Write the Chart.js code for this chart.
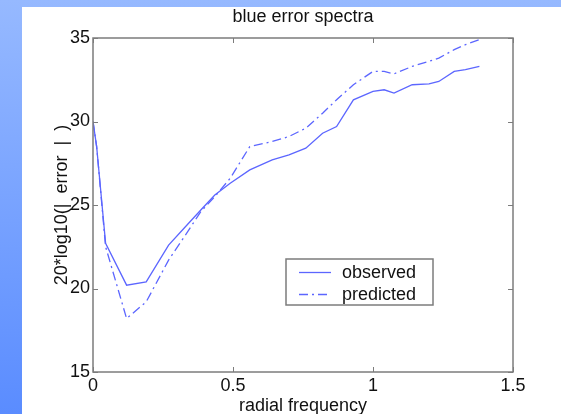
<!DOCTYPE html>
<html>
<head>
<meta charset="utf-8">
<script src="https://cdn.jsdelivr.net/npm/chart.js@4.4.1/dist/chart.umd.min.js"></script>
<style>
  html, body { margin: 0; padding: 0; }
  body { width: 561px; height: 414px; overflow: hidden; position: relative;
         background: linear-gradient(180deg, #96b9ff 0%, #5a8cff 100%); }
  #panel { position: absolute; left: 22px; top: 7px; width: 539px; height: 407px; background: #ffffff; }
  canvas { display: block; }
</style>
</head>
<body>
<div id="panel"><canvas id="c" width="539" height="407"></canvas></div>
<script>
// ---- data ----
const freq      = [0, 0.013, 0.045, 0.12, 0.19, 0.27, 0.33, 0.385, 0.435, 0.49, 0.56, 0.64, 0.70, 0.76, 0.82, 0.87, 0.93, 1.0, 1.04, 1.075, 1.14, 1.2, 1.235, 1.29, 1.33, 1.38];
const observed  = [30.0, 28.5, 22.7, 20.2, 20.4, 22.6, 23.7, 24.7, 25.6, 26.3, 27.1, 27.7, 28.0, 28.4, 29.3, 29.7, 31.3, 31.8, 31.9, 31.7, 32.2, 32.25, 32.4, 33.0, 33.1, 33.3];
const predicted = [30.0, 28.5, 22.5, 18.2, 19.2, 21.7, 23.2, 24.6, 25.5, 26.6, 28.5, 28.8, 29.1, 29.6, 30.5, 31.3, 32.2, 33.0, 33.0, 32.85, 33.3, 33.6, 33.8, 34.3, 34.6, 34.9];
const seriesNames = ['observed', 'predicted'];
const xTickValues = [0, 0.5, 1, 1.5];
const xTickLabels = ['0', '0.5', '1', '1.5'];
const yTickValues = [15, 20, 25, 30, 35];
const yTickLabels = ['15', '20', '25', '30', '35'];
const titleText = 'blue error spectra';
const xTitle = 'radial frequency';
const yTitle = '20*log10(|  error  |  )';

const FONT = '"Liberation Sans", Arial, Helvetica, sans-serif';
const LINE = 'rgb(92,102,255)';
const AXIS = '#7c7c7c';

function pts(ys) { return freq.map((f, i) => ({ x: f, y: ys[i] })); }

const decor = {
  id: 'decor',
  afterDraw(chart) {
    const ctx = chart.ctx, a = chart.chartArea;
    const xs = chart.scales.x, ys = chart.scales.y;
    ctx.save();
    // axes box
    ctx.strokeStyle = AXIS; ctx.lineWidth = 1.5;
    ctx.strokeRect(a.left, a.top, a.right - a.left, a.bottom - a.top);
    // inner ticks on all sides
    ctx.lineWidth = 1;
    const tl = 5;
    ctx.beginPath();
    xTickValues.forEach(v => {
      const px = Math.round(xs.getPixelForValue(v)) + 0.5;
      ctx.moveTo(px, a.bottom); ctx.lineTo(px, a.bottom - tl);
      ctx.moveTo(px, a.top); ctx.lineTo(px, a.top + tl);
    });
    yTickValues.forEach(v => {
      const py = Math.round(ys.getPixelForValue(v)) + 0.5;
      ctx.moveTo(a.left, py); ctx.lineTo(a.left + tl, py);
      ctx.moveTo(a.right, py); ctx.lineTo(a.right - tl, py);
    });
    ctx.stroke();
    // title
    ctx.fillStyle = '#111';
    ctx.font = '18px ' + FONT;
    ctx.textAlign = 'center'; ctx.textBaseline = 'alphabetic';
    ctx.fillText(titleText, (a.left + a.right) / 2, 15);
    // x title
    ctx.fillText(xTitle, (a.left + a.right) / 2, 404);
    // y title
    ctx.save();
    ctx.translate(45, (a.top + a.bottom) / 2);
    ctx.rotate(-Math.PI / 2);
    ctx.fillText(yTitle, 0, 0);
    ctx.restore();
    // legend
    const bx = 264, by = 252, bw = 147, bh = 46;
    ctx.fillStyle = '#fff';
    ctx.fillRect(bx, by, bw, bh);
    ctx.strokeStyle = AXIS; ctx.lineWidth = 1.5;
    ctx.strokeRect(bx, by, bw, bh);
    const rows = [by + 13, by + 35];
    chart.data.datasets.forEach((ds, i) => {
      ctx.strokeStyle = ds.borderColor; ctx.lineWidth = ds.borderWidth;
      ctx.setLineDash(ds.borderDash || []);
      ctx.beginPath(); ctx.moveTo(277, rows[i] + 0.5); ctx.lineTo(309, rows[i] + 0.5); ctx.stroke();
      ctx.setLineDash([]);
      ctx.fillStyle = '#111'; ctx.textAlign = 'left'; ctx.textBaseline = 'middle';
      ctx.fillText(ds.label, 320, rows[i] + 1);
    });
    ctx.restore();
  }
};

new Chart(document.getElementById('c'), {
  type: 'scatter',
  data: {
    datasets: [
      { label: seriesNames[0], data: pts(observed), showLine: true, borderColor: LINE, borderWidth: 1.3,
        pointRadius: 0, fill: false, tension: 0 },
      { label: seriesNames[1], data: pts(predicted), showLine: true, borderColor: LINE, borderWidth: 1.3,
        borderDash: [9, 4, 2, 4], pointRadius: 0, fill: false, tension: 0 }
    ]
  },
  options: {
    responsive: false,
    animation: false,
    devicePixelRatio: 1,
    layout: { padding: { top: 31, right: 48, left: 0, bottom: 0 } },
    plugins: { legend: { display: false }, title: { display: false }, tooltip: { enabled: false } },
    scales: {
      x: {
        type: 'linear', min: 0, max: 1.5,
        afterBuildTicks: s => { s.ticks = xTickValues.map(v => ({ value: v })); },
        ticks: { callback: (v) => xTickLabels[xTickValues.indexOf(v)], color: '#111',
                 font: { family: FONT, size: 18 }, padding: 3, maxRotation: 0, autoSkip: false },
        grid: { display: false, drawTicks: false },
        border: { display: false },
        afterFit: s => { s.height = 42; }
      },
      y: {
        type: 'linear', min: 15, max: 35,
        afterBuildTicks: s => { s.ticks = yTickValues.map(v => ({ value: v })); },
        ticks: { callback: (v) => yTickLabels[yTickValues.indexOf(v)], color: '#111',
                 font: { family: FONT, size: 18 }, padding: 3, autoSkip: false },
        grid: { display: false, drawTicks: false },
        border: { display: false },
        afterFit: s => { s.width = 71; }
      }
    }
  },
  plugins: [decor]
});
</script>
</body>
</html>
